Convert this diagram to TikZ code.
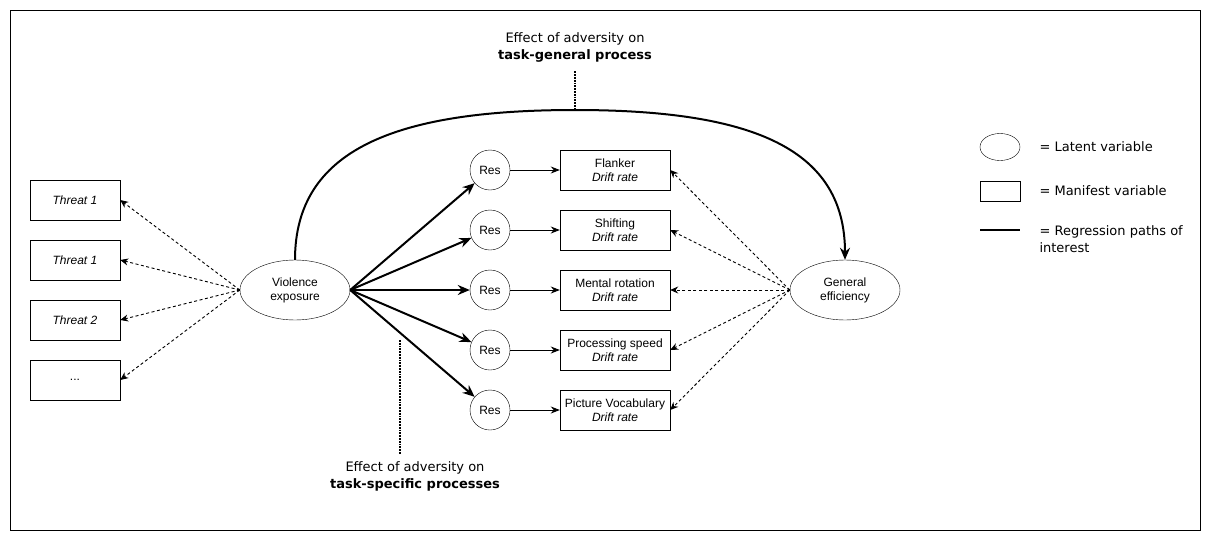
\documentclass[tikz,border=0pt]{standalone}
\usepackage{fontspec}
\setmainfont{Liberation Sans}
\newfontfamily\notefont{DejaVu Sans}
\usetikzlibrary{shapes.geometric,arrows.meta}

\begin{document}
\begin{tikzpicture}[x=1pt,y=-1pt]
        \tikzstyle{every node} = [font=\fontsize{12}{14}\selectfont]
        \tikzstyle{latent} = [draw, ellipse, minimum width=110pt, minimum height=60pt, inner sep=0pt, align=center]
        \tikzstyle{res} = [draw, circle, minimum size=40pt, inner sep=0pt]
        \tikzstyle{task} = [draw, rectangle, minimum width=110pt, minimum height=40pt, inner sep=1pt, align=center]
        \tikzstyle{ind} = [draw, rectangle, minimum width=90pt, minimum height=40pt]
        \tikzstyle{note} = [font=\notefont\fontsize{13}{17}\selectfont, align=center]
        \tikzstyle{load} = [-{Stealth[length=8pt,width=7pt]}, dash pattern=on 3pt off 2.5pt, line width=0.9pt]
        \tikzstyle{regr} = [-{Stealth[length=12pt,width=10pt]}, line width=2pt]
        \tikzstyle{resid} = [-{Stealth[length=9pt,width=7pt]}, line width=0.9pt]
        \tikzstyle{pointer} = [densely dotted, line width=1.8pt]

        \useasboundingbox (0,0) rectangle (1211,541);
        \draw[line width=0.9pt] (10,10) rectangle (1200,530);

        \node[ind] (t1) at (75,200) {\textit{Threat 1}};
        \node[ind] (t2) at (75,260) {\textit{Threat 1}};
        \node[ind] (t3) at (75,320) {\textit{Threat 2}};
        \node[ind] (t4) at (75,380) {...};

        \node[latent] (ve) at (295,290) {Violence\\exposure};
        \node[latent] (ge) at (845,290) {General\\efficiency};

        \node[res] (r1) at (490,170) {Res};
        \node[res] (r2) at (490,230) {Res};
        \node[res] (r3) at (490,290) {Res};
        \node[res] (r4) at (490,350) {Res};
        \node[res] (r5) at (490,410) {Res};

        \node[task] (k1) at (615,170) {Flanker\\\textit{Drift rate}};
        \node[task] (k2) at (615,230) {Shifting\\\textit{Drift rate}};
        \node[task] (k3) at (615,290) {Mental rotation\\\textit{Drift rate}};
        \node[task] (k4) at (615,350) {Processing speed\\\textit{Drift rate}};
        \node[task] (k5) at (615,410) {Picture Vocabulary\\\textit{Drift rate}};

        \draw[load] (ve.west) -- (t1.east);
        \draw[load] (ve.west) -- (t2.east);
        \draw[load] (ve.west) -- (t3.east);
        \draw[load] (ve.west) -- (t4.east);

        \draw[regr] (ve.east) -- (r1);
        \draw[regr] (ve.east) -- (r2);
        \draw[regr] (ve.east) -- (r3);
        \draw[regr] (ve.east) -- (r4);
        \draw[regr] (ve.east) -- (r5);

        \draw[resid] (r1) -- (k1);
        \draw[resid] (r2) -- (k2);
        \draw[resid] (r3) -- (k3);
        \draw[resid] (r4) -- (k4);
        \draw[resid] (r5) -- (k5);

        \draw[load] (ge.west) -- (k1.east);
        \draw[load] (ge.west) -- (k2.east);
        \draw[load] (ge.west) -- (k3.east);
        \draw[load] (ge.west) -- (k4.east);
        \draw[load] (ge.west) -- (k5.east);

        \coordinate (peak) at (575,110);
        \draw[regr] (ve.north) .. controls +(0,-110) and +(-180,0) .. (peak)
                               .. controls +(180,0) and +(0,-110) .. (ge.north);

        \node[note] (gnote) at (575,47) {Effect of adversity on\\\textbf{task-general process}};
        \draw[pointer, shorten <=6pt] (gnote.south) -- (peak);

        \node[note] (snote) at (415,476) {Effect of adversity on\\\textbf{task-specific processes}};
        \coordinate (sp) at (400,340);
        \draw[pointer, shorten >=3pt] (sp) -- (sp |- snote.north);

        \node[draw, ellipse, minimum width=40pt, minimum height=27pt] (lg1) at (1000,147) {};
        \node[note, anchor=west] (lt1) at (1036,147) {= Latent variable};
        \node[draw, rectangle, minimum width=40pt, minimum height=20pt] (lg2) at (1000,191) {};
        \node[note, anchor=west] (lt2) at (1036,191) {= Manifest variable};
        \coordinate (lg3a) at (980,230);
        \coordinate (lg3b) at (1020,230);
        \draw[line width=2pt] (lg3a) -- (lg3b);
        \node[note, anchor=west, align=left] (lt3) at (1036,239) {= Regression paths of\\interest};
\end{tikzpicture}
\end{document}
